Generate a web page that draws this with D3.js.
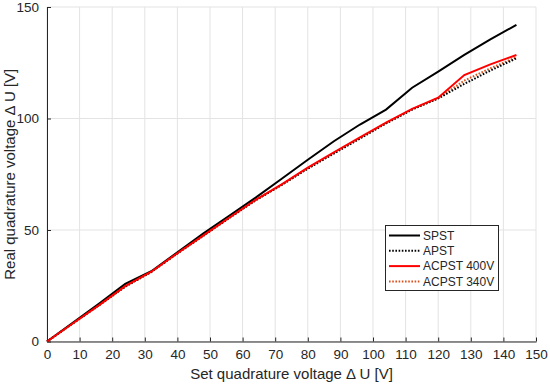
<!DOCTYPE html>
<html><head><meta charset="utf-8">
<script src="https://cdn.jsdelivr.net/npm/d3@7"></script>
<style>body{margin:0;background:#fff}svg{display:block}text{font-family:"Liberation Sans",Arial,sans-serif;fill:#262626}</style>
</head><body><svg id="c" width="550" height="385"></svg>
<script>
const xs = [0, 8, 16, 24, 32, 40, 48, 56, 64, 72, 80, 88, 96, 104, 112, 120, 128, 136, 144];
const spst   = [0, 8.5, 17, 25.8, 31.5, 40, 48.5, 56.5, 64.5, 73, 81.5, 89.8, 97.3, 104, 113.8, 121, 128.5, 135.5, 142];
const apst   = [0, 8.2, 16.3, 24.6, 31.2, 39.5, 47.5, 55.5, 63.3, 70.2, 77.5, 84.3, 91, 97.8, 104, 109, 115.5, 121.5, 127];
const ac400  = [0, 8.2, 16.3, 24.8, 31.3, 39.6, 47.6, 55.6, 63.5, 70.5, 78, 84.8, 91.5, 98.2, 104.3, 109.3, 119.5, 124.3, 128.5];
const ac340  = [0, 8.2, 16.3, 24.7, 31.2, 39.5, 47.5, 55.5, 63.4, 70.3, 77.7, 84.5, 91.2, 98, 104.1, 109.1, 117, 122.5, 127.5];
const xTicks = [0,10,20,30,40,50,60,70,80,90,100,110,120,130,140,150];
const yTicks = [0,50,100,150];
const seriesNames = ["SPST","APST","ACPST 400V","ACPST 340V"];

const svg = d3.select("#c");
const L=47, R=536, T=7, B=341.5;
const x = d3.scaleLinear().domain([0,150]).range([L,R]);
const y = d3.scaleLinear().domain([0,150]).range([B,T]);

// grid
const g = svg.append("g");
g.selectAll(".gx").data(xTicks).join("line").attr("x1",d=>x(d)).attr("x2",d=>x(d)).attr("y1",T).attr("y2",B).attr("stroke","#e3e3e3").attr("stroke-width",1);
g.selectAll(".gy").data(yTicks).join("line").attr("y1",d=>y(d)).attr("y2",d=>y(d)).attr("x1",L).attr("x2",R).attr("stroke","#e3e3e3").attr("stroke-width",1);

// axes
const xa = svg.append("g").attr("transform",`translate(0,${B})`).call(d3.axisBottom(x).tickValues(xTicks).tickSizeInner(-4).tickSizeOuter(0).tickPadding(8));
const ya = svg.append("g").attr("transform",`translate(${L},0)`).call(d3.axisLeft(y).tickValues(yTicks).tickSizeInner(-4).tickSizeOuter(0).tickPadding(8));
[xa,ya].forEach(a=>{a.select(".domain").attr("stroke","#262626");a.selectAll(".tick line").attr("stroke","#262626");a.selectAll("text").style("font-size","13.5px").attr("fill","#262626").style("font-family","'Liberation Sans',Arial,sans-serif");});

// lines
const data = [
 {name:seriesNames[0], v:spst, color:"#000", dash:null},
 {name:seriesNames[3], v:ac340, color:"#d9531e", dash:"1.6,1.6"},
 {name:seriesNames[1], v:apst, color:"#000", dash:"1.6,1.6"},
 {name:seriesNames[2], v:ac400, color:"#ff0000", dash:null}
];
const line = d3.line().x((d,i)=>x(xs[i])).y(d=>y(d));
svg.append("g").selectAll("path").data(data).join("path")
 .attr("d",d=>line(d.v)).attr("fill","none").attr("stroke",d=>d.color).attr("stroke-width",2)
 .attr("stroke-dasharray",d=>d.dash);

// axis titles
svg.append("text").attr("x",(L+R)/2).attr("y",379).attr("text-anchor","middle").style("font-size","15px").text("Set quadrature voltage \u0394 U [V]");
svg.append("text").attr("transform",`translate(15,${(T+B)/2}) rotate(-90)`).attr("text-anchor","middle").style("font-size","15px").text("Real quadrature voltage \u0394 U [V]");

// legend
const lg = svg.append("g");
lg.append("rect").attr("x",385.5).attr("y",225.5).attr("width",113).attr("height",65).attr("fill","#fff").attr("stroke","#262626").attr("stroke-width",1);
const order = [data[0],data[2],data[3],data[1]];
order.forEach((d,i)=>{
  const yy = 235.5 + i*15.3;
  lg.append("line").attr("x1",389).attr("x2",420).attr("y1",yy).attr("y2",yy).attr("stroke",d.color).attr("stroke-width",2).attr("stroke-dasharray",d.dash);
  lg.append("text").attr("x",423).attr("y",yy+4.3).style("font-size","12px").text(d.name);
});
</script></body></html>
